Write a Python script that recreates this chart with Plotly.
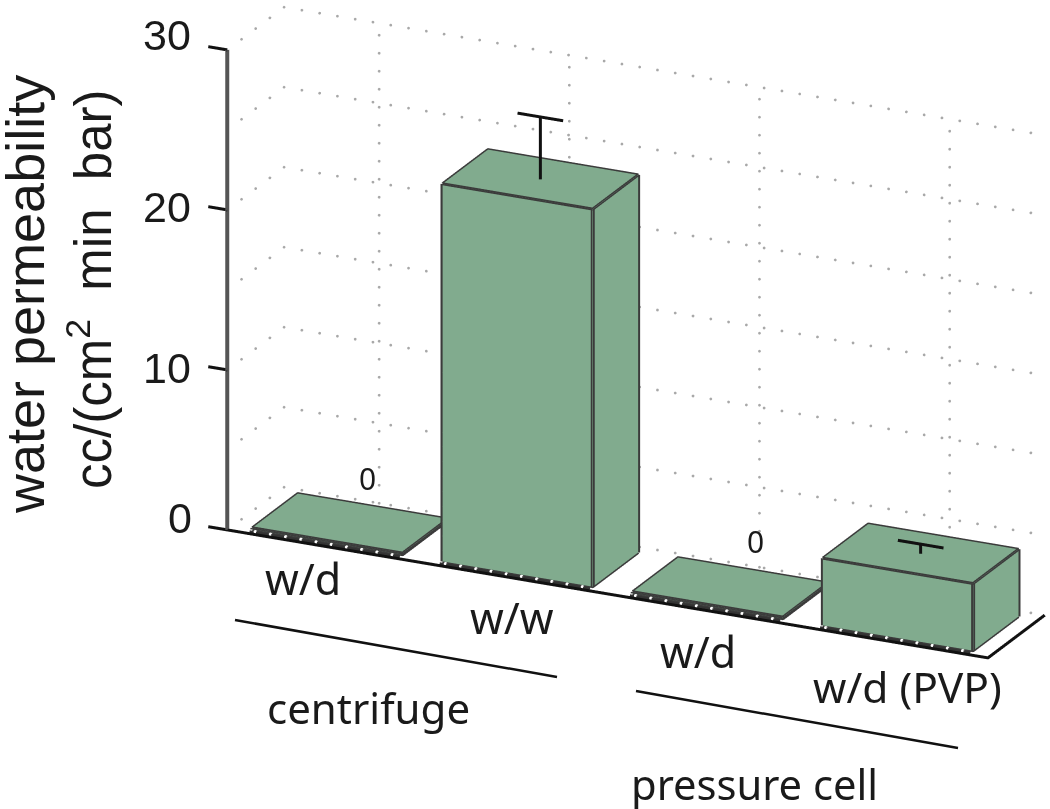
import math
import numpy as np
import plotly.graph_objects as go

categories = ["w/d", "w/w", "w/d", "w/d (PVP)"]
values = [0.1, 23.6, 0.1, 4.2]
err_up = [None, 3.9, None, 0.6]
zero_flags = ["0", None, "0", None]
z_ticks = [0, 10, 20, 30]
z_grid = [0, 5, 10, 15, 20, 25, 30]
groups = ["centrifuge", "pressure cell"]

W, H = 1050, 809
BAR = "#81AB8E"
EDGE = "#3b3b3b"
half = 0.395
dlo, dhi = 0.09, 0.89

# camera
az = math.radians(25.3)
el = math.radians(20.85)
R = 3.0
K = 399.0          # px per scene unit
ZOOM = 2.288
SHIFT_X, SHIFT_Y = 109.5, 71
right = np.array([math.cos(az), math.sin(az), 0])
up = np.array([-math.sin(az)*math.sin(el), math.cos(az)*math.sin(el), math.cos(el)])
d = np.array([math.sin(az)*math.cos(el), -math.cos(az)*math.cos(el), math.sin(el)])
center = -(SHIFT_X*right + SHIFT_Y*up)/K
eye = center + R*d


def line3d(x, y, z, color, width, dash="solid"):
    return go.Scatter3d(x=x, y=y, z=z, mode="lines", hoverinfo="skip", showlegend=False,
                        line=dict(color=color, width=width, dash=dash))


def dots3d(x, y, z, color="#a8a8a8", size=1.6):
    return go.Scatter3d(x=x, y=y, z=z, mode="markers", hoverinfo="skip", showlegend=False,
                        marker=dict(color=color, size=size, line=dict(width=0)))


fig = go.Figure()

# walls: dotted grid, one dot every 18 px or so along each gridline
back_dots = np.arange(0, 4.001, 0.0935)
side_dots = np.arange(0.25, 1.001, 0.25)
vert_dots = np.arange(0, 30.001, 1.125)
for z in z_grid:
    fig.add_trace(dots3d(back_dots, np.ones_like(back_dots), np.full_like(back_dots, z)))
    fig.add_trace(dots3d(np.zeros_like(side_dots), side_dots, np.full_like(side_dots, z)))
for i in range(len(categories)):
    fig.add_trace(dots3d(np.full_like(vert_dots, i+0.5), np.ones_like(vert_dots), vert_dots))

# axis + floor
fig.add_trace(line3d([0, 0], [0, 0], [0, 30], "#555555", 8))
for t in z_ticks[1:]:
    fig.add_trace(line3d([-0.1, 0], [0, 0], [t, t], "#111111", 6))
fig.add_trace(line3d([-0.1, 4, 4], [0, 0, 1], [0, 0, 0], "#111111", 6))

# bars
for i, v in enumerate(values):
    x0, x1 = i+0.5-half, i+0.5+half
    xs = [x0, x1, x1, x0, x0, x1, x1, x0]
    ys = [dlo, dlo, dhi, dhi, dlo, dlo, dhi, dhi]
    zs = [0, 0, 0, 0, v, v, v, v]
    fig.add_trace(go.Mesh3d(x=xs, y=ys, z=zs,
                            i=[0, 0, 4, 4, 0, 0, 1, 1, 2, 2, 3, 3],
                            j=[1, 2, 5, 6, 1, 5, 2, 6, 3, 7, 0, 4],
                            k=[2, 3, 6, 7, 5, 4, 6, 5, 7, 6, 4, 7],
                            color=BAR, flatshading=True, hoverinfo="skip", showscale=False,
                            lighting=dict(ambient=1, diffuse=0, specular=0, roughness=1, fresnel=0)))
    ex = [x0, x1, x1, x0, x0]
    ey = [dlo, dlo, dhi, dhi, dlo]
    ez = [v, v, v, v, v]
    fig.add_trace(line3d(ex, ey, ez, EDGE, 6))
    vx = [x0, x0, None, x1, x1, None, x1, x1, None, x0, x0]
    vy = [dlo, dlo, None, dlo, dlo, None, dhi, dhi, None, dhi, dhi]
    vz = [0, v, None, 0, v, None, 0, v, None, 0, v]
    fig.add_trace(line3d(vx, vy, vz, EDGE, 8))
    fig.add_trace(line3d([x0, x1, x1], [dlo, dlo, dhi], [0, 0, 0], EDGE, 6))
    # the dark band with white flecks between each bar and the floor edge
    fig.add_trace(line3d([x0, x1], [dlo*0.45, dlo*0.45], [0, 0], "#333333", 5))
    flecks = np.arange(x0+0.03, x1, 0.08)
    fig.add_trace(dots3d(flecks, np.full_like(flecks, dlo*0.45), np.full_like(flecks, 0.05),
                         color="#ffffff", size=2))
    e = err_up[i]
    if e is not None:
        cx, cy = i+0.5, (dlo+dhi)/2
        fig.add_trace(line3d([cx, cx], [cy, cy], [v, v+e], "#111111", 6))
        fig.add_trace(line3d([cx-0.12, cx+0.12], [cy, cy], [v+e, v+e], "#111111", 6))


def ann(text, px, py, size, family="Noto Sans", angle=0, color="#1a1a1a"):
    return dict(text=text, x=px/W, y=1-py/H, xref="paper", yref="paper", showarrow=False,
                xanchor="center", yanchor="middle", textangle=angle,
                font=dict(family=family, size=size, color=color))


anns = []
for t, py in zip(z_ticks, [518, 368, 207, 35]):
    anns.append(ann(str(t), 167 if t else 180, py, 43, "Liberation Sans"))
anns += [
    ann("water permeability", 25, 295, 54, "Liberation Sans", angle=-90),
    ann("cc/(cm<sup>2</sup>  min  bar)", 90, 289, 51, "Liberation Sans", angle=-90),
    ann(categories[0], 303, 578, 43), ann(categories[1], 512, 617, 43),
    ann(categories[2], 698, 651, 43), ann(categories[3], 907, 686, 42.5),
    ann(groups[0], 368, 707, 42), ann(groups[1], 754, 783, 41.7),
    ann(zero_flags[0], 367, 478, 30), ann(zero_flags[2], 755, 541, 30),
]


def seg(x0, y0, x1, y1):
    return dict(type="line", xref="paper", yref="paper", x0=x0/W, x1=x1/W, y0=1-y0/H, y1=1-y1/H,
                line=dict(color="#111111", width=2.5))


fig.update_layout(
    width=W, height=H, margin=dict(l=0, r=0, t=0, b=0), paper_bgcolor="white",
    showlegend=False, annotations=anns,
    shapes=[seg(235, 620, 557, 677), seg(636, 691, 958, 748)],
    scene=dict(
        domain=dict(x=[0, 1], y=[0, 1]),
        xaxis=dict(visible=False, range=[-0.2, 4.2]),
        yaxis=dict(visible=False, range=[-0.05, 1.05]),
        zaxis=dict(visible=False, range=[-1, 31]),
        aspectmode="manual", aspectratio=dict(x=ZOOM, y=0.1578*ZOOM, z=0.592*ZOOM),
        camera=dict(projection=dict(type="orthographic"),
                    up=dict(x=0, y=0, z=1),
                    center=dict(x=center[0], y=center[1], z=center[2]),
                    eye=dict(x=eye[0], y=eye[1], z=eye[2])),
    ),
)
fig.write_html("out.html", config=dict(displayModeBar=False),
               post_script="document.body.style.margin='0';")
